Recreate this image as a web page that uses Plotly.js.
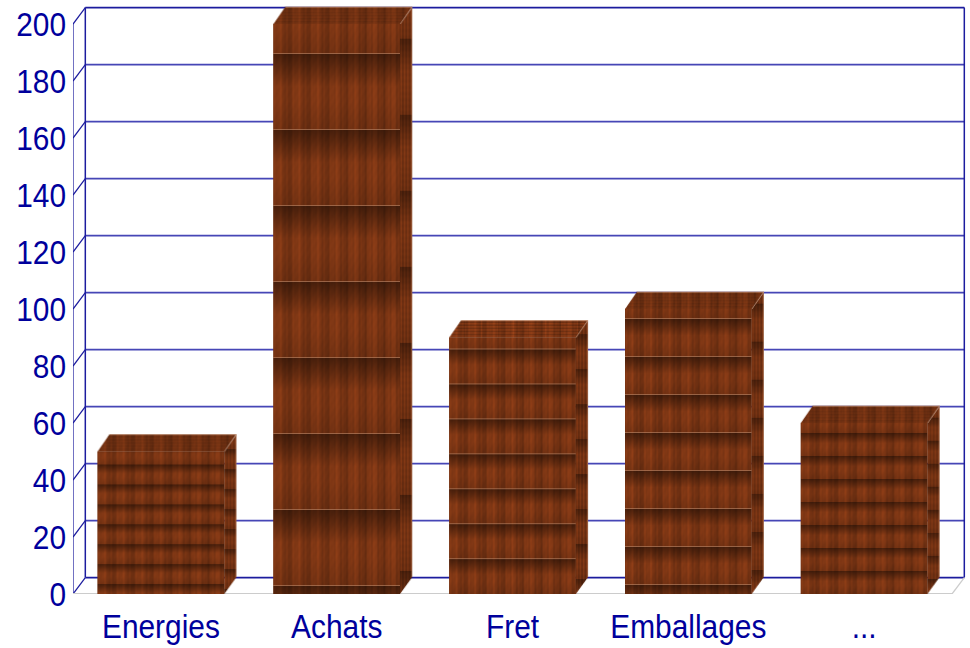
<!DOCTYPE html>
<html><head><meta charset="utf-8">
<script src="https://cdn.plot.ly/plotly-3.0.1.min.js"></script>
<style>html,body{margin:0;padding:0;background:#fff}#c{width:970px;height:648px}</style>
</head><body><div id="c"></div>
<script>
// ---- data ----
const categories = ['Energies', 'Achats', 'Fret', 'Emballages', '...'];
const values = [50, 200, 90, 100, 60];
const yTicks = [0, 20, 40, 60, 80, 100, 120, 140, 160, 180, 200];

// ---- styling: layout & wood texture ----
const bandPeriod = [20, 76, 35, 38, 23];   // px
const bandOffset = [13, 30, 12, 10, 10];   // px below bar top of first dark band
const box = {l: 73, r: 966, t: 4, b: 594};
const pxPerCat = 175.8, pxPerUnit = 2.85;
const xMax = -0.5 + (box.r - box.l) / pxPerCat;
const yMax = (box.b - box.t) / pxPerUnit;
const barW = 0.72, depthX = 0.07, depthY = 6.1, wallY = 5.75;
const dxPx = Math.round(depthX * pxPerCat), dyPx = Math.round(depthY * pxPerUnit);
const NAVY = '#00009c', GRID = '#4646b6', WALL = '#1c1c9e', FLOOR = '#cccccc';

function bandShade(t) {           // t in 0..1 from a band boundary downwards
  if (t < 0.42) return 0.58 + 0.46 * (t / 0.42);
  if (t < 0.62) return 1.04;
  return 1.04 - 0.12 * (t - 0.62) / 0.38;
}
function grain(x, y) {            // deterministic wood grain
  return 1 + 0.09 * Math.sin(2 * Math.PI * x / 19)
           + 0.06 * Math.sin(2 * Math.PI * x / 6.3 + 1)
           + 0.035 * Math.sin(2 * Math.PI * x / 3.1)
           + 0.015 * Math.sin(2 * Math.PI * y / 11 + x);
}
function paint(w, h, fn) {
  const cv = document.createElement('canvas'); cv.width = w; cv.height = h;
  const cx = cv.getContext('2d'), im = cx.createImageData(w, h);
  for (let y = 0; y < h; y++) for (let x = 0; x < w; x++) {
    const s = fn(x, y), k = (y * w + x) * 4;
    im.data[k] = Math.min(255, 118 * s); im.data[k+1] = Math.min(255, 51 * s); im.data[k+2] = Math.min(255, 19 * s);
    im.data[k+3] = 255;
  }
  cx.putImageData(im, 0, 0);
  return cv;
}
function frontFace(i, w, h) {
  const P = bandPeriod[i], O = bandOffset[i];
  const cv = paint(w, h, (x, y) => {
    const t = (((y - O) % P) + P) % P / P;
    return grain(x, y) * bandShade(t);
  });
  if (P > 30) {
    const cx = cv.getContext('2d');
    cx.fillStyle = 'rgba(185,135,105,0.6)';
    for (let y = O - 1; y < h - 3; y += P) cx.fillRect(0, y, w, 1);
  }
  return cv.toDataURL();
}
function sideFace(i, w, h) {
  const P = bandPeriod[i], O = bandOffset[i] + dyPx - 15;
  const src = paint(w, h, (x, y) => {
    const t = (((y - O) % P) + P) % P / P;
    const g = 1 + 0.12 * Math.sin(2 * Math.PI * x / 3.2) + 0.02 * Math.sin(y);
    return g * (0.12 + 0.84 * bandShade(t));
  });
  const cv = document.createElement('canvas'); cv.width = w; cv.height = h;
  const cx = cv.getContext('2d');
  cx.beginPath(); cx.moveTo(0, dyPx); cx.lineTo(w, 0); cx.lineTo(w, h - dyPx); cx.lineTo(0, h); cx.closePath();
  cx.save(); cx.clip(); cx.drawImage(src, 0, 0); cx.restore();
  cx.fillStyle = 'rgba(180,130,100,0.6)'; cx.fillRect(w - 1, 0, 1, h - dyPx);
  return cv.toDataURL();
}
function topFace(i, w, h) {
  const fw = w - dxPx;
  const lined = i === 2;
  const src = paint(w, h, (x, y) => {
    let s = grain(x, y) * 0.92 + 0.04 * Math.sin(2 * Math.PI * y / 3);
    if (lined && y % 3 === 0) s *= 1.3;
    if (lined && x % 16 === 0) s *= 1.12;
    return s;
  });
  const cv = document.createElement('canvas'); cv.width = w; cv.height = h;
  const cx = cv.getContext('2d');
  cx.beginPath(); cx.moveTo(0, h); cx.lineTo(dxPx, 0); cx.lineTo(w, 0); cx.lineTo(fw, h); cx.closePath();
  cx.save(); cx.clip(); cx.drawImage(src, 0, 0); cx.restore();
  cx.strokeStyle = 'rgba(210,170,145,0.6)'; cx.lineWidth = 1;
  cx.beginPath(); cx.moveTo(dxPx, 0.5); cx.lineTo(w, 0.5); cx.stroke();
  cx.strokeStyle = 'rgba(210,170,145,0.5)';
  cx.beginPath(); cx.moveTo(fw, h); cx.lineTo(w, 0); cx.stroke();
  return cv.toDataURL();
}

const images = [];
categories.forEach((c, i) => {
  const v = values[i], x0 = i - barW / 2, x1 = i + barW / 2;
  const wPx = Math.round(barW * pxPerCat), hPx = Math.round(v * pxPerUnit);
  const common = {xref: 'x', yref: 'y', sizing: 'stretch', layer: 'above', xanchor: 'left', yanchor: 'bottom'};
  images.push(Object.assign({source: frontFace(i, wPx, hPx), x: x0, y: 0, sizex: barW, sizey: v}, common));
  images.push(Object.assign({source: sideFace(i, dxPx, hPx + dyPx), x: x1, y: 0, sizex: depthX, sizey: v + depthY}, common));
  images.push(Object.assign({source: topFace(i, wPx + dxPx, dyPx), x: x0, y: v, sizex: barW + depthX, sizey: depthY}, common));
});

const left = -0.5, right = categories.length - 0.5, topV = yTicks[yTicks.length - 1];
const line = (x0, y0, x1, y1, color, width) => ({type: 'line', xref: 'x', yref: 'y', layer: 'below', x0, y0, x1, y1, line: {color, width}});
const shapes = [];
yTicks.forEach(t => {
  const strong = t === 0 || t === topV;
  shapes.push(line(left + depthX, t + wallY, right + depthX, t + wallY, strong ? WALL : GRID, 1.9));
  shapes.push(line(left, t, left + depthX, t + wallY, WALL, 1.25));
});
shapes.push(line(left, 0, left, topV, WALL, 1.25));
shapes.push(line(left + depthX, wallY, left + depthX, topV + wallY, WALL, 1.5));
shapes.push(line(right + depthX, wallY, right + depthX, topV + wallY, WALL, 1.5));
shapes.push(line(left, 0, right, 0, FLOOR, 2));
shapes.push(line(right, 0, right + depthX, wallY, FLOOR, 1.25));

const fontScale = 0.905;   // reference glyphs are taller than they are wide
const font = {family: '"Liberation Sans", Arial, sans-serif', color: NAVY, size: 33};
Plotly.newPlot('c', [{
  type: 'bar', x: categories, y: values, width: barW,
  marker: {color: '#703010', line: {width: 0}}, hoverinfo: 'skip'
}], {
  width: 970, height: 648, showlegend: false,
  paper_bgcolor: '#fff', plot_bgcolor: '#fff',
  margin: {l: box.l, r: 970 - box.r, t: box.t, b: 648 - box.b, pad: 0},
  xaxis: {type: 'category', categoryorder: 'array', categoryarray: categories, range: [left, xMax], showgrid: false, zeroline: false, showline: false, ticks: '', tickfont: font, ticklabelstandoff: 10, automargin: false},
  yaxis: {range: [0, yMax], tickvals: yTicks, ticktext: yTicks.map(String), showgrid: false, zeroline: false, showline: false, ticks: '', tickfont: font, ticklabelstandoff: 6, automargin: false},
  shapes, images
}, {staticPlot: true, displayModeBar: false}).then(gd => {
  gd.querySelectorAll('.xtick text, .ytick text').forEach(t => {
    t.setAttribute('textLength', (t.getComputedTextLength() * fontScale).toFixed(1));
    t.setAttribute('lengthAdjust', 'spacingAndGlyphs');
  });
});
</script></body></html>
